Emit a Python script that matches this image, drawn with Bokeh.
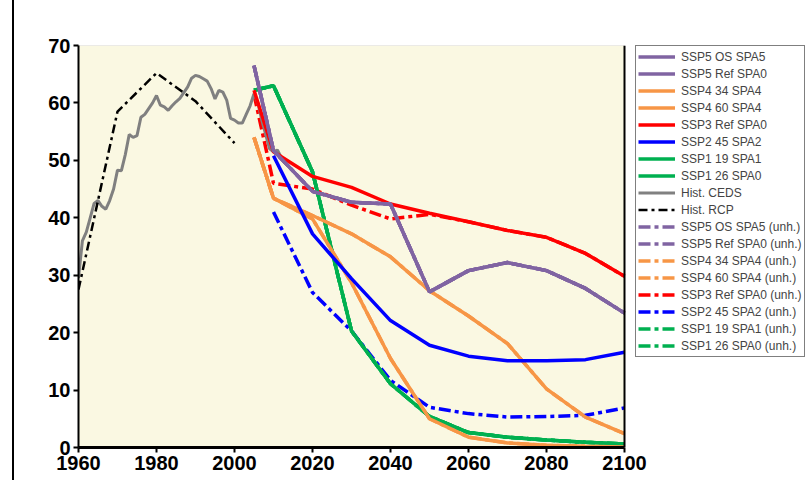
from bokeh.plotting import figure
from bokeh.models import Legend, LegendItem, Span, FixedTicker, Range1d, Div, BoxAnnotation
from bokeh.layouts import row
from bokeh.embed import file_html
from bokeh.resources import INLINE

# ---------------- data ----------------
years_ceds = list(range(1960, 2015))
hist_ceds = [29.5, 36.0, 37.5, 40.0, 42.5, 43.0, 42.0, 41.5, 43.0, 45.0,
             48.3, 48.2, 51.0, 54.5, 54.0, 54.3, 57.5, 58.0, 59.0, 60.0,
             61.3, 59.6, 59.3, 58.7, 59.5, 60.2, 60.8, 61.8, 62.8, 64.3,
             64.8, 64.6, 64.2, 63.8, 62.5, 60.7, 62.2, 61.9, 60.5, 57.3,
             57.0, 56.5, 56.5, 58.0, 59.5, 61.6, 60.0, 57.0, 54.5, 52.0,
             51.5, 51.8, 50.5, 49.5, 49.0]

years_rcp = [1960, 1970, 1980, 1990, 2000]
hist_rcp = [27.5, 58.5, 65.2, 60.3, 53.0]

years_ssp = [2005, 2010, 2020, 2030, 2040, 2050, 2060, 2070, 2080, 2090, 2100]
years_ssp2 = [2010, 2020, 2030, 2040, 2050, 2060, 2070, 2080, 2090, 2100]

ssp5_os_spa5 = [66.5, 51.7, 44.6, 42.7, 42.4, 27.1, 30.8, 32.2, 30.8, 27.7, 23.4]
ssp5_ref_spa0 = [66.5, 51.7, 44.6, 42.7, 42.4, 27.1, 30.8, 32.2, 30.8, 27.7, 23.4]
ssp4_34_spa4 = [54.0, 43.4, 39.8, 28.7, 15.5, 5.0, 1.8, 0.8, 0.4, 0.2, 0.1]
ssp4_60_spa4 = [54.0, 43.4, 40.4, 37.2, 33.2, 27.3, 22.9, 18.1, 10.2, 5.3, 2.4]
ssp3_ref_spa0 = [62.2, 51.5, 47.2, 45.3, 42.4, 40.8, 39.3, 37.8, 36.6, 33.8, 29.8]
ssp2_45_spa2 = [50.8, 37.2, 29.4, 22.1, 17.8, 15.9, 15.1, 15.1, 15.3, 16.6]
ssp1_19_spa1 = [62.2, 63.0, 48.0, 20.3, 11.1, 5.4, 2.6, 1.8, 1.3, 0.9, 0.6]
ssp1_26_spa0 = [62.2, 63.0, 48.0, 20.3, 11.1, 5.4, 2.6, 1.8, 1.3, 0.9, 0.6]

ssp5_os_spa5_unh = [66.5, 51.7, 44.6, 42.7, 42.4, 27.1, 30.8, 32.2, 30.8, 27.7, 23.4]
ssp5_ref_spa0_unh = [66.5, 51.7, 44.6, 42.7, 42.4, 27.1, 30.8, 32.2, 30.8, 27.7, 23.4]
ssp4_34_spa4_unh = [54.0, 43.4, 39.8, 28.7, 15.5, 5.0, 1.8, 0.8, 0.4, 0.2, 0.1]
ssp4_60_spa4_unh = [54.0, 43.4, 40.4, 37.2, 33.2, 27.3, 22.9, 18.1, 10.2, 5.3, 2.4]
ssp3_ref_spa0_unh = [61.5, 46.0, 45.0, 42.2, 39.8, 40.6, 39.3, 37.8, 36.6, 33.8, 29.8]
ssp2_45_spa2_unh = [41.0, 27.0, 20.3, 11.7, 7.0, 5.9, 5.3, 5.4, 5.6, 6.9]
ssp1_19_spa1_unh = [62.2, 63.0, 48.0, 20.3, 11.1, 5.4, 2.6, 1.8, 1.3, 0.9, 0.6]
ssp1_26_spa0_unh = [62.2, 63.0, 48.0, 20.3, 11.1, 5.4, 2.6, 1.8, 1.3, 0.9, 0.6]

x_ticks = [1960, 1980, 2000, 2020, 2040, 2060, 2080, 2100]
y_ticks = [0, 10, 20, 30, 40, 50, 60, 70]

PURPLE = "#8064A2"
ORANGE = "#F79646"
RED = "#FF0000"
BLUE = "#0000FF"
GREEN = "#00B050"
GRAY = "#808080"
CREAM = "#FAF8E2"

# ---------------- figure ----------------
# the frame also holds the legend; the plotting area (1960-2100) spans 546 px of it
FIG_W, LEFT = 791, 64
frame_px = FIG_W - LEFT
x_end = x_ticks[0] + frame_px * (x_ticks[-1] - x_ticks[0]) / 546.0

p = figure(width=FIG_W, height=480, output_backend="svg", toolbar_location=None,
           x_range=Range1d(x_ticks[0], x_end), y_range=Range1d(y_ticks[0], y_ticks[-1]),
           min_border_left=LEFT, min_border_right=0, min_border_top=45, min_border_bottom=33)
p.background_fill_color = "white"
p.border_fill_color = "white"
p.outline_line_color = None
p.xgrid.visible = False
p.ygrid.visible = False

# plotting area background with its border
p.add_layout(BoxAnnotation(left=x_ticks[0], right=x_ticks[-1], bottom=y_ticks[0], top=y_ticks[-1],
                           fill_color=CREAM, fill_alpha=1, line_color=GRAY, line_width=1, level="underlay"))
p.add_layout(Span(location=x_ticks[-1], dimension="height", line_color="black", line_width=2))

for ax, ticks, lw in ((p.xaxis[0], x_ticks, 3), (p.yaxis[0], y_ticks, 2)):
    ax.ticker = FixedTicker(ticks=ticks)
    ax.axis_line_color = "black"
    ax.axis_line_width = lw
    ax.major_tick_line_color = "black"
    ax.major_tick_line_width = 2
    ax.major_tick_out = 5
    ax.major_tick_in = 0
    ax.minor_tick_line_color = None
    ax.major_label_text_font = "Liberation Sans"
    ax.major_label_text_font_size = "20px"
    ax.major_label_text_font_style = "bold"
    ax.major_label_text_color = "black"
    ax.major_label_standoff = 3
p.xaxis[0].bounds = (x_ticks[0], x_ticks[-1])

DD = "12 4 4 4"
renderers = {}
# unharmonized (dash-dot) lines
renderers["ssp5os_u"] = p.line(years_ssp, ssp5_os_spa5_unh, color=PURPLE, line_width=3.5, line_dash=DD)
renderers["ssp5ref_u"] = p.line(years_ssp, ssp5_ref_spa0_unh, color=PURPLE, line_width=3.5, line_dash=DD)
renderers["ssp434_u"] = p.line(years_ssp, ssp4_34_spa4_unh, color=ORANGE, line_width=3.5, line_dash=DD)
renderers["ssp460_u"] = p.line(years_ssp, ssp4_60_spa4_unh, color=ORANGE, line_width=3.5, line_dash=DD)
renderers["ssp119_u"] = p.line(years_ssp, ssp1_19_spa1_unh, color=GREEN, line_width=3.5, line_dash=DD)
renderers["ssp126_u"] = p.line(years_ssp, ssp1_26_spa0_unh, color=GREEN, line_width=3.5, line_dash=DD)
renderers["ssp3_u"] = p.line(years_ssp, ssp3_ref_spa0_unh, color=RED, line_width=3.5, line_dash=DD)
renderers["ssp2_u"] = p.line(years_ssp2, ssp2_45_spa2_unh, color=BLUE, line_width=3.5, line_dash=DD)
# history
renderers["ceds"] = p.line(years_ceds, hist_ceds, color=GRAY, line_width=3)
renderers["rcp"] = p.line(years_rcp, hist_rcp, color="black", line_width=2.5, line_dash="9 4 3 4")
# harmonized
renderers["ssp119"] = p.line(years_ssp, ssp1_19_spa1, color=GREEN, line_width=3.5)
renderers["ssp126"] = p.line(years_ssp, ssp1_26_spa0, color=GREEN, line_width=3.5)
renderers["ssp434"] = p.line(years_ssp, ssp4_34_spa4, color=ORANGE, line_width=3.5)
renderers["ssp460"] = p.line(years_ssp, ssp4_60_spa4, color=ORANGE, line_width=3.5)
renderers["ssp2"] = p.line(years_ssp2, ssp2_45_spa2, color=BLUE, line_width=3.5)
renderers["ssp3"] = p.line(years_ssp, ssp3_ref_spa0, color=RED, line_width=3.5)
renderers["ssp5ref"] = p.line(years_ssp, ssp5_ref_spa0, color=PURPLE, line_width=3.5)
renderers["ssp5os"] = p.line(years_ssp, ssp5_os_spa5, color=PURPLE, line_width=3.5)

legend_entries = [
    ("SSP5 OS SPA5", "ssp5os"), ("SSP5 Ref SPA0", "ssp5ref"),
    ("SSP4 34 SPA4", "ssp434"), ("SSP4 60 SPA4", "ssp460"),
    ("SSP3 Ref SPA0", "ssp3"), ("SSP2 45 SPA2", "ssp2"),
    ("SSP1 19 SPA1", "ssp119"), ("SSP1 26 SPA0", "ssp126"),
    ("Hist. CEDS", "ceds"), ("Hist. RCP", "rcp"),
    ("SSP5 OS SPA5 (unh.)", "ssp5os_u"), ("SSP5 Ref SPA0 (unh.)", "ssp5ref_u"),
    ("SSP4 34 SPA4 (unh.)", "ssp434_u"), ("SSP4 60 SPA4 (unh.)", "ssp460_u"),
    ("SSP3 Ref SPA0 (unh.)", "ssp3_u"), ("SSP2 45 SPA2 (unh.)", "ssp2_u"),
    ("SSP1 19 SPA1 (unh.)", "ssp119_u"), ("SSP1 26 SPA0 (unh.)", "ssp126_u"),
]
legend = Legend(items=[LegendItem(label=l, renderers=[renderers[k]]) for l, k in legend_entries],
                location=(557, 90), padding=2, spacing=0, glyph_width=37, glyph_height=17,
                label_height=17, label_standoff=6, margin=0,
                label_text_font="Liberation Sans", label_text_font_size="12px",
                border_line_color="black", border_line_width=1,
                background_fill_color="white", background_fill_alpha=1)
p.add_layout(legend, "center")

edge = Div(text="", width=2, height=480, margin=(0, 0, 0, 12),
           styles={"background-color": "black"})

open("out.html", "w").write(file_html(row(edge, p), INLINE))
